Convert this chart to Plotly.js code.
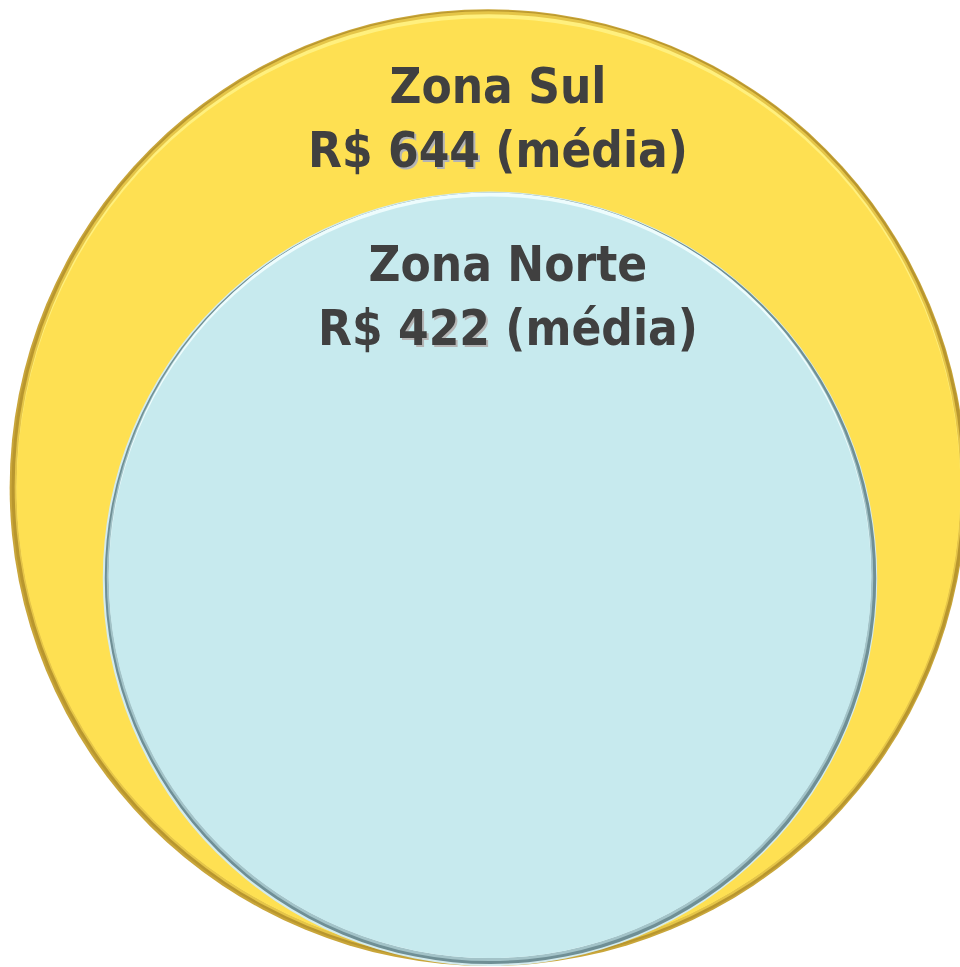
<!DOCTYPE html>
<html>
<head>
<meta charset="utf-8">
<script src="https://cdn.plot.ly/plotly-3.0.1.min.js"></script>
<style>html,body{margin:0;padding:0;background:#fff;}#chart{width:960px;height:967px;}</style>
</head>
<body>
<div id="chart"></div>
<script>
// ---- data ----
const zonas = ["Zona Sul", "Zona Norte"];
const medias = [644, 422];
const moeda = "R$";
const rotulo = "(média)";

// ---- styling (not data) ----
const W = 960, H = 967;
const K = 18.85;          // px per sqrt(value): circle area proportional to value
const CX = [488, 490], BOTTOM = 966;
const textX = [498, 508];
const textY = [118, 296];
// bevel layers: [top, bottom, left, right] insets in px, colour per circle
const layers = [
  [
    [[0, 0, 0, 0], "#C9A63A"],
    [[1, 2, 2, 1], "#B8962E"],
    [[2, 4, 5, 4], "#E5C548"],
    [[5, 7, 7, 6], "#FFF07E"],
    [[9, 7, 7, 6], "#FEE052"]
  ],
  [
    [[0, 0, 0, 0], "#D3EBEE"],
    [[1, 2, 2, 1], "#6F8F95"],
    [[2, 5, 4, 4], "#A3C3C8"],
    [[1, 8, 6, 6], "#EDFCFD"],
    [[5, 8, 6, 6], "#C7EAEE"]
  ]
];

const shapes = [];
const annotations = [];
medias.forEach((v, i) => {
  const r = K * Math.sqrt(v);
  const cx = CX[i];
  const top = BOTTOM - 2 * r;
  layers[i].forEach(([ins, color]) => {
    shapes.push({
      type: "circle", xref: "x", yref: "y", layer: "above",
      x0: cx - r + ins[2], x1: cx + r - ins[3],
      y0: top + ins[0], y1: BOTTOM - ins[1],
      fillcolor: color, line: {width: 0}
    });
  });

  const font = {family: "DejaVu Sans Condensed, Open Sans, sans-serif", size: 49, color: "#404040", weight: 700};
  annotations.push({
    xref: "x", yref: "y", x: textX[i], y: textY[i],
    text: zonas[i] + "<br>" + moeda + " <span style=\"text-shadow:2px 2px 0px #b4b4b4\">" + v + "</span> " + rotulo,
    showarrow: false, xanchor: "center", yanchor: "middle", align: "center", font: font
  });
});

const layout = {
  width: W, height: H,
  margin: {l: 0, r: 0, t: 0, b: 0, pad: 0},
  paper_bgcolor: "#ffffff", plot_bgcolor: "#ffffff",
  xaxis: {range: [0, W], visible: false, fixedrange: true},
  yaxis: {range: [H, 0], visible: false, fixedrange: true},
  showlegend: false,
  shapes: shapes,
  annotations: annotations
};

Plotly.newPlot("chart", [{x: [], y: [], type: "scatter", hoverinfo: "skip"}], layout, {staticPlot: true, displayModeBar: false});
</script>
</body>
</html>
